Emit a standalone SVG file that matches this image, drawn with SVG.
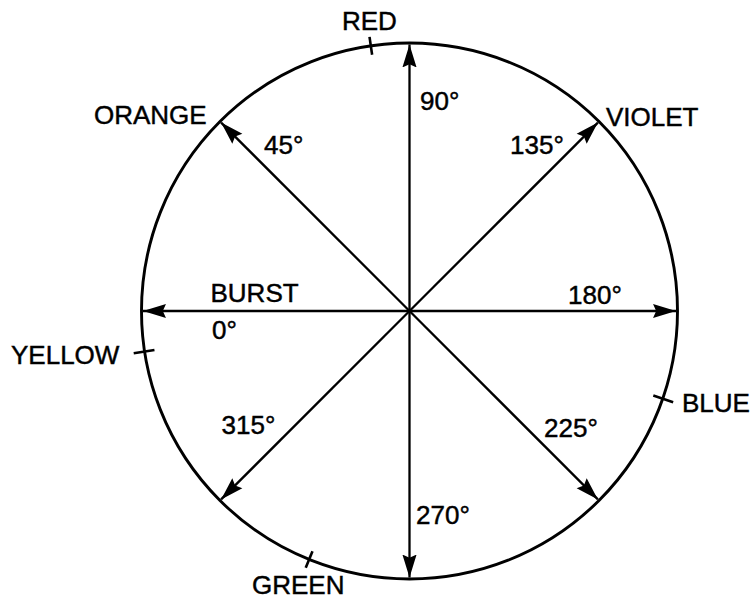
<svg xmlns="http://www.w3.org/2000/svg" width="751" height="600" viewBox="0 0 751 600">
<style>
.lbl{font-family:"Liberation Sans",Arial,sans-serif;font-size:26px;fill:#000;stroke:#000;stroke-width:0.45}
.ray{stroke:#000;stroke-width:2.3;fill:none;marker-end:url(#ah)}
.tick{stroke:#000;stroke-width:2.6}
</style>
<defs>
<marker id="ah" markerUnits="userSpaceOnUse" markerWidth="24" markerHeight="16" viewBox="-22 -7 23 14" refX="0" refY="0" orient="auto">
<path d="M0,0 L-22,-6.8 L-19,0 L-22,6.8 Z" fill="#000"/>
</marker>
</defs>
<rect width="751" height="600" fill="#fff"/>
<g id="wheel">
<circle cx="409.5" cy="311" r="268" fill="none" stroke="#000" stroke-width="2.9"/>
</g>
<g id="connectors">
<line class="ray" x1="409.5" y1="311" x2="409.5" y2="44.5"/>
<line class="ray" x1="409.5" y1="311" x2="409.5" y2="577.5"/>
<line class="ray" x1="409.5" y1="311" x2="143" y2="311"/>
<line class="ray" x1="409.5" y1="311" x2="676" y2="311"/>
<line class="ray" x1="409.5" y1="311" x2="221.1" y2="122.6"/>
<line class="ray" x1="409.5" y1="311" x2="597.9" y2="122.6"/>
<line class="ray" x1="409.5" y1="311" x2="221.1" y2="499.4"/>
<line class="ray" x1="409.5" y1="311" x2="597.9" y2="499.4"/>
</g>
<g id="ticks" transform="translate(409.5,311)">
<line class="tick" x1="259" y1="0" x2="277" y2="0" transform="rotate(-98.3)"/>
<line class="tick" x1="258" y1="0" x2="279" y2="0" transform="rotate(171.3)"/>
<line class="tick" x1="258" y1="0" x2="279" y2="0" transform="rotate(19.1)"/>
<line class="tick" x1="259" y1="0" x2="277" y2="0" transform="rotate(112)"/>
</g>
<g id="red"><text class="lbl" x="342" y="30">RED</text></g>
<g id="orange"><text class="lbl" x="94" y="123.5">ORANGE</text></g>
<g id="violet"><text class="lbl" x="606" y="126">VIOLET</text></g>
<g id="yellow"><text class="lbl" x="11" y="364">YELLOW</text></g>
<g id="blue"><text class="lbl" x="682" y="411.5">BLUE</text></g>
<g id="green"><text class="lbl" x="252" y="594">GREEN</text></g>
<g id="burst"><text class="lbl" x="210.5" y="302">BURST</text></g>
<g id="deg0"><text class="lbl" x="212" y="338.5">0°</text></g>
<g id="deg45"><text class="lbl" x="264" y="153.5">45°</text></g>
<g id="deg90"><text class="lbl" x="420" y="110">90°</text></g>
<g id="deg135"><text class="lbl" x="510" y="154">135°</text></g>
<g id="deg180"><text class="lbl" x="568" y="304">180°</text></g>
<g id="deg225"><text class="lbl" x="544" y="436.5">225°</text></g>
<g id="deg270"><text class="lbl" x="416" y="523.5">270°</text></g>
<g id="deg315"><text class="lbl" x="221.5" y="434">315°</text></g>
</svg>
